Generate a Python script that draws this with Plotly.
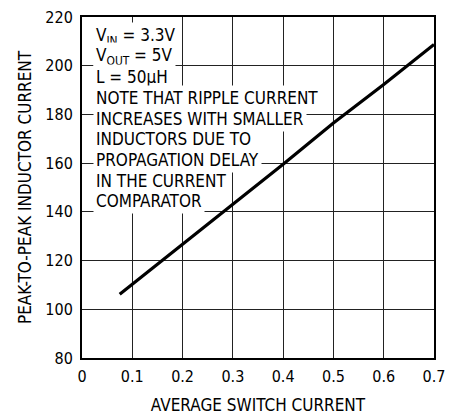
import plotly.graph_objects as go

# Data
switch_current = [0.075, 0.2, 0.3, 0.4, 0.5, 0.6, 0.7]
ripple_current = [106.2, 126.6, 142.8, 159.5, 176.5, 192.3, 208.7]

x_ticks = [0, 0.1, 0.2, 0.3, 0.4, 0.5, 0.6, 0.7]
x_tick_labels = ["0", "0.1", "0.2", "0.3", "0.4", "0.5", "0.6", "0.7"]
y_ticks = [80, 100, 120, 140, 160, 180, 200, 220]
y_tick_labels = ["80", "100", "120", "140", "160", "180", "200", "220"]

note_lines = [
    "V<sub>IN</sub> = 3.3V",
    "V<sub>OUT</sub> = 5V",
    "L = 50µH",
    "NOTE THAT RIPPLE CURRENT",
    "INCREASES WITH SMALLER",
    "INDUCTORS DUE TO",
    "PROPAGATION DELAY",
    "IN THE CURRENT",
    "COMPARATOR",
]

FONT = "DejaVu Sans Condensed, Liberation Sans Narrow, Arial Narrow, sans-serif"

fig = go.Figure()
fig.add_trace(go.Scatter(
    x=switch_current, y=ripple_current, mode="lines",
    line=dict(color="black", width=3.2), showlegend=False,
))

line_step = 0.0605  # paper units per text line
for i, t in enumerate(note_lines):
    fig.add_annotation(
        x=0.03, y=0.944 - i * line_step, xref="paper", yref="paper",
        xanchor="left", yanchor="middle", text=t, showarrow=False,
        font=dict(family=FONT, size=17, color="black"),
        bgcolor="white", borderpad=2,
    )

axis_common = dict(
    showgrid=True, gridcolor="#222", gridwidth=1,
    showline=True, linecolor="black", linewidth=2, mirror=True,
    ticks="", zeroline=False,
    tickfont=dict(family=FONT, size=16, color="black"),
    title_font=dict(family=FONT, size=17, color="black"),
)

fig.update_xaxes(
    range=[0, 0.7], tickvals=x_ticks, ticktext=x_tick_labels,
    title_text="AVERAGE SWITCH CURRENT", title_standoff=14,
    ticklabelstandoff=3,
    **axis_common,
)
fig.update_yaxes(
    range=[80, 220], tickvals=y_ticks, ticktext=y_tick_labels,
    title_text="PEAK-TO-PEAK INDUCTOR CURRENT", title_standoff=9,
    ticklabelstandoff=4,
    **axis_common,
)

fig.update_layout(
    width=461, height=420,
    margin=dict(l=82, r=27, t=8, b=60),
    plot_bgcolor="white", paper_bgcolor="white",
)

fig.write_html(
    "out.html",
    config={"displayModeBar": False},
    post_script="document.body.style.margin='0px';",
)
